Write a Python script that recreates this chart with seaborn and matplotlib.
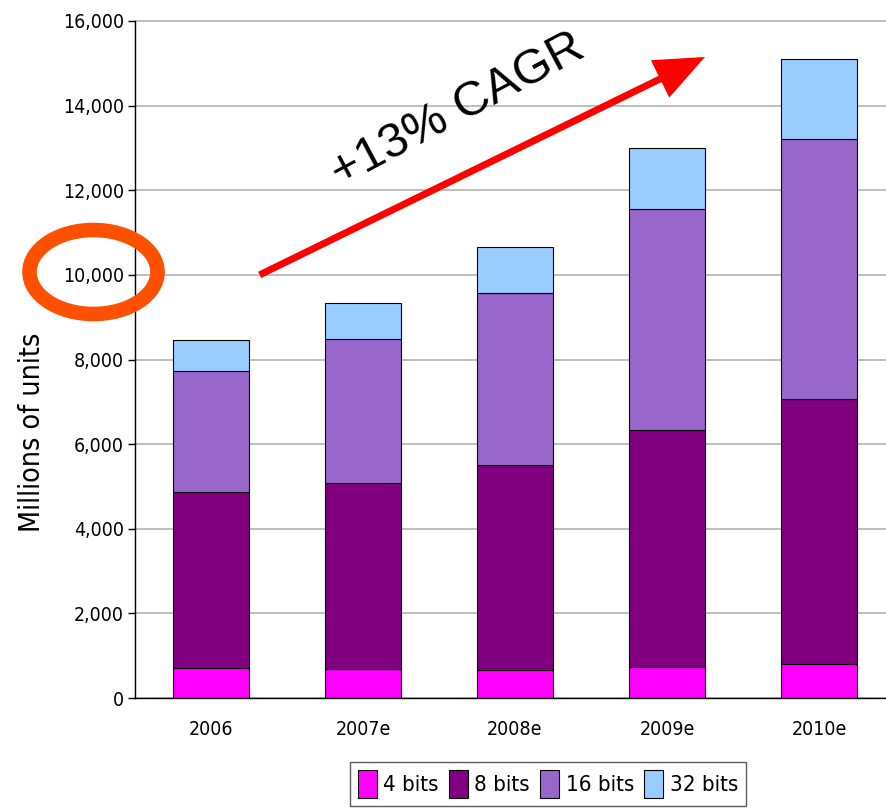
import numpy as np
import pandas as pd
import matplotlib
matplotlib.use("Agg")
import matplotlib.pyplot as plt
import seaborn as sns
from matplotlib.patches import Patch, Ellipse

# Data (millions of units per segment)
years = ["2006", "2007e", "2008e", "2009e", "2010e"]
bits4 = [700, 690, 660, 730, 800]
bits8 = [4170, 4390, 4850, 5600, 6265]
bits16 = [2860, 3400, 4070, 5225, 6145]
bits32 = [735, 850, 1090, 1440, 1890]
series_names = ["4 bits", "8 bits", "16 bits", "32 bits"]
colors = ["#ff00ff", "#800080", "#9966cc", "#99ccff"]

sns.set_style("white")
plt.rcParams["font.family"] = ["DejaVu Sans"]
plt.rcParams["font.stretch"] = "condensed"
plt.rcParams["text.color"] = "black"
plt.rcParams["axes.labelcolor"] = "black"
plt.rcParams["xtick.color"] = "black"
plt.rcParams["ytick.color"] = "black"

fig = plt.figure(figsize=(8.86, 8.10), dpi=100)
ax = fig.add_axes([135 / 886, 112 / 810, 760 / 886, 677 / 810])

df = pd.DataFrame({"year": years, "4 bits": bits4, "8 bits": bits8,
                   "16 bits": bits16, "32 bits": bits32})

# stacked bars
bottom = np.zeros(len(years))
for name, col in zip(series_names, colors):
    sns.barplot(data=df, x="year", y=name, bottom=bottom, color=col,
                width=0.5, edgecolor="black", linewidth=0.8,
                saturation=1, ax=ax, zorder=3)
    bottom = bottom + df[name].values

ax.set_xlim(-0.5, 4.5)
ax.set_ylim(0, 16000)
ax.set_yticks(np.arange(0, 16001, 2000))
ax.set_yticklabels([f"{v:,}" for v in range(0, 16001, 2000)], fontsize=14)
ax.yaxis.grid(True, color="#b3b3b3", linewidth=1.2, zorder=0, clip_on=False)
ax.xaxis.grid(False)

# x ticks: marks between categories, labels at centers
ax.set_xticks([0.5, 1.5, 2.5, 3.5])
ax.set_xticklabels([])
ax.set_xticks(range(len(years)), minor=True)
ax.set_xticklabels(years, minor=True, fontsize=14)
ax.tick_params(axis="x", which="major", direction="out", length=8, width=1, color="black")
ax.tick_params(axis="x", which="minor", length=0, pad=16)
ax.tick_params(axis="y", direction="out", length=5, width=1, color="black", pad=3, left=True)

for s in ["top", "right"]:
    ax.spines[s].set_visible(False)
for s in ["left", "bottom"]:
    ax.spines[s].set_color("black")
    ax.spines[s].set_linewidth(1)
    ax.spines[s].set_zorder(4)

ax.set_xlabel("")
ax.set_ylabel("Millions of units", fontsize=20.5)
ax.yaxis.set_label_coords(-0.117, 0.393)

# legend
handles = [Patch(facecolor=c, edgecolor="black", linewidth=0.8, label=n)
           for n, c in zip(series_names, colors)]
leg = fig.legend(handles=handles, loc="upper left", bbox_to_anchor=(350 / 886, 1 - 762 / 810),
                 ncol=4, fontsize=16, frameon=True, fancybox=False, borderaxespad=0,
                 edgecolor="#333333", handlelength=0.85, handleheight=1.6,
                 handletextpad=0.3, columnspacing=0.45, borderpad=0.35)
leg.get_frame().set_linewidth(1)

# CAGR arrow and text
ax.annotate("", xy=(3.25, 15150), xytext=(0.32, 10000),
            arrowprops=dict(width=5, headwidth=30, headlength=36,
                            facecolor="#ff0000", edgecolor="none", shrink=0),
            zorder=6, annotation_clip=False)
ax.text(1.62, 13900, "+13% CAGR", fontsize=35, rotation=28,
        family=["Liberation Sans"], fontstretch="normal",
        ha="center", va="center", zorder=6)

# highlight around 10,000
fig.add_artist(Ellipse((93.5 / 886, 1 - 272 / 810), 128 / 886, 84 / 810,
                       transform=fig.transFigure, fill=False,
                       edgecolor="#ff5000", linewidth=10.5, zorder=10))

fig.savefig("out.png", dpi=100)
